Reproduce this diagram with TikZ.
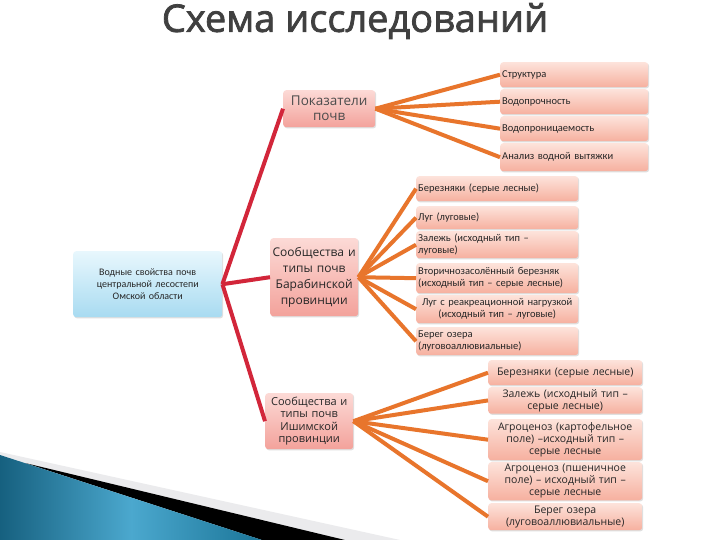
\documentclass[tikz,border=0pt]{standalone}
\usepackage{fontspec}
\setmainfont{Open Sans}
\newfontfamily\calfont{Carlito}
\newfontfamily\titlefont{Open Sans}[FakeBold=2]
\usetikzlibrary{shadows}
\definecolor{pinkT}{HTML}{FCDAD6}
\definecolor{pinkB}{HTML}{F3A29B}
\definecolor{salT}{HTML}{FDE3DB}
\definecolor{salB}{HTML}{F6B09F}
\definecolor{blueT}{HTML}{E8F7FD}
\definecolor{blueB}{HTML}{A8DBF1}
\definecolor{orangeL}{HTML}{E8752C}
\definecolor{redL}{HTML}{D2263A}
\definecolor{txt}{HTML}{262626}
\definecolor{teal1}{HTML}{16607F}
\definecolor{teal2}{HTML}{4BA8CE}
\definecolor{teal3}{HTML}{1B7598}
\tikzset{
  box/.style={rectangle, rounded corners=3pt, inner sep=2pt, anchor=north west,
    text=txt, drop shadow={shadow xshift=1pt, shadow yshift=-1.2pt, opacity=0.25}},
  pbox/.style={box, top color=pinkT, bottom color=pinkB},
  sbox/.style={box, top color=salT, bottom color=salB},
  bbox/.style={box, top color=blueT, bottom color=blueB},
  oline/.style={draw=orangeL, line width=4pt},
  rline/.style={draw=redL, line width=4pt},
  smalltxt/.style={font=\calfont\fontsize{10.5}{12}\selectfont},
  midtxt/.style={font=\fontsize{10.5}{12}\selectfont},
}
\begin{document}
\begin{tikzpicture}[x=1pt,y=-1pt]
\fill[white] (0,0) rectangle (720,540);
\useasboundingbox (0,0) rectangle (720,540);
% bottom-left decoration
\fill[blue!5!gray!15] (0,452) -- (400,540) -- (262,540) -- (0,455) -- cycle;
\fill[black] (25,463) -- (345,540) -- (262,540) -- cycle;
\shade[left color=teal1, right color=teal3, middle color=teal2] (0,455) -- (262,540) -- (0,540) -- cycle;
% title
\node[font=\titlefont\fontsize{38}{42}\selectfont, text=black!75] (title) at (355,21) {Схема исследований};
% main left box
\node[bbox, minimum width=149pt, minimum height=66pt, text width=145pt, align=center,
  font=\calfont\fontsize{10}{12}\selectfont] (root) at (73,251)
  {Водные свойства почв\\центральной лесостепи\\Омской области};
% parents
\node[pbox, minimum width=92pt, minimum height=37pt, text width=88pt, align=center,
  font=\fontsize{13.5}{15}\selectfont, text=black!70] (pok) at (283,90) {Показатели\\почв};
\node[pbox, minimum width=88pt, minimum height=78pt, inner sep=1pt, text width=86pt, align=center,
  font=\fontsize{12}{16}\selectfont] (bar) at (270,238) {Сообщества и\\типы почв\\Барабинской\\провинции};
\node[pbox, minimum width=88pt, minimum height=56pt, text width=84pt, align=center,
  font=\fontsize{11}{12.5}\selectfont] (ish) at (265,393) {Сообщества и\\типы почв\\Ишимской\\провинции};
% top group
\node[sbox, smalltxt, minimum width=148pt, minimum height=25pt, text width=144pt, align=left] (p1) at (500,62) {Структура};
\node[sbox, smalltxt, minimum width=148pt, minimum height=25pt, text width=144pt, align=left] (p2) at (500,89) {Водопрочность};
\node[sbox, smalltxt, minimum width=148pt, minimum height=25pt, text width=144pt, align=left] (p3) at (500,116) {Водопроницаемость};
\node[sbox, smalltxt, minimum width=148pt, minimum height=28pt, text width=144pt, align=left] (p4) at (500,143) {Анализ водной вытяжки};
% Barabinsk group
\node[sbox, smalltxt, minimum width=162pt, minimum height=25pt, text width=158pt, align=left] (b1) at (416,176) {Березняки (серые лесные)};
\node[sbox, smalltxt, minimum width=162pt, minimum height=23pt, text width=158pt, align=left] (b2) at (416,206) {Луг (луговые)};
\node[sbox, smalltxt, minimum width=162pt, minimum height=27pt, text width=158pt, align=left] (b3) at (416,231) {Залежь (исходный тип –\\луговые)};
\node[sbox, smalltxt, minimum width=162pt, minimum height=30pt, text width=158pt, align=left] (b4) at (416,263) {Вторичнозасолённый березняк\\(исходный тип – серые лесные)};
\node[sbox, smalltxt, minimum width=162pt, minimum height=28pt, text width=158pt, align=center] (b5) at (416,295) {Луг с реакреационной нагрузкой\\(исходный тип – луговые)};
\node[sbox, smalltxt, minimum width=162pt, minimum height=28pt, text width=158pt, align=left] (b6) at (416,327) {Берег озера\\(луговоаллювиальные)};
% Ishim group
\node[sbox, midtxt, minimum width=154pt, minimum height=25pt, text width=150pt, align=center] (i1) at (488,360) {Березняки (серые лесные)};
\node[sbox, midtxt, minimum width=154pt, minimum height=26pt, text width=150pt, align=center] (i2) at (488,387) {Залежь  (исходный тип –\\серые лесные)};
\node[sbox, midtxt, minimum width=154pt, minimum height=41pt, text width=150pt, align=center] (i3) at (488,419) {Агроценоз (картофельное\\поле) –исходный тип –\\серые лесные};
\node[sbox, midtxt, minimum width=154pt, minimum height=38pt, text width=150pt, align=center] (i4) at (488,462) {Агроценоз (пшеничное\\поле) – исходный тип –\\серые лесные};
\node[sbox, midtxt, minimum width=154pt, minimum height=27pt, text width=150pt, align=center] (i5) at (488,503) {Берег озера\\(луговоаллювиальные)};
% red connectors
\foreach \t in {pok,bar,ish} \draw[rline] (root.east) -- (\t.west);
% orange connectors
\foreach \t in {p1,p2,p3,p4} \draw[oline] (pok.east) -- (\t.west);
\foreach \t in {b1,b2,b3,b4,b5,b6} \draw[oline] (bar.east) -- (\t.west);
\foreach \t in {i1,i2,i3,i4,i5} \draw[oline] (ish.east) -- (\t.west);
\end{tikzpicture}
\end{document}
